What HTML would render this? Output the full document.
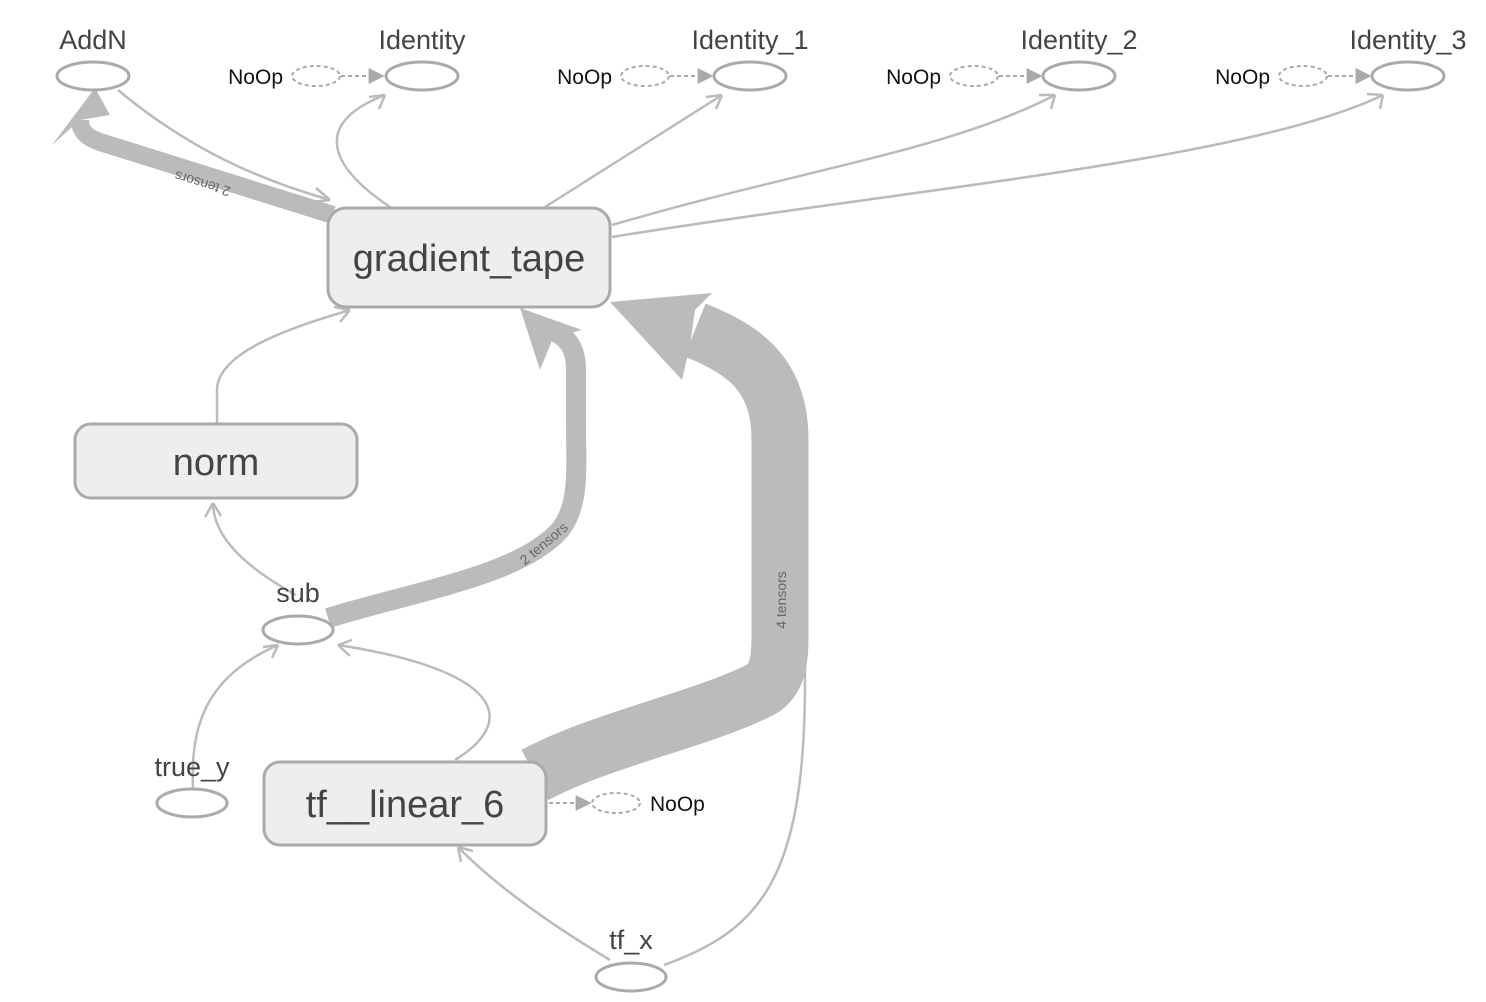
<!DOCTYPE html>
<html><head><style>
body{margin:0;background:#fff;}
svg{display:block;font-family:"Liberation Sans",sans-serif;}
</style></head><body>
<svg width="1486" height="1002" viewBox="0 0 1486 1002">
<defs>
<marker id="ad" viewBox="0 0 10 10" refX="9" refY="5" markerWidth="16" markerHeight="16" orient="auto" markerUnits="userSpaceOnUse"><path d="M0,0 L10,5 L0,10 Z" fill="#aaa"/></marker>
</defs>
<g fill="none" stroke="#bbb" stroke-width="2.5">
<path d="M118,90 C190,150 260,180 330,200" />
<path d="M330,200 l-14,-12 M330,200 l-18,2" />
<path d="M390,207 C320,160 320,120 385,95"/>
<path d="M385,95 l-16,2 M385,95 l-6,14"/>
<path d="M545,207 L722,95"/>
<path d="M722,95 l-16,2 M722,95 l-6,14"/>
<path d="M612,225 C800,170 950,150 1055,95"/>
<path d="M1055,95 l-16,0 M1055,95 l-4,14"/>
<path d="M612,237 C900,190 1250,160 1383,95"/>
<path d="M1383,95 l-16,-1 M1383,95 l-3,14"/>
<path d="M217,423 L217,390 C217,350 300,325 350,310"/>
<path d="M350,310 l-16,-3 M350,310 l-10,12"/>
<path d="M296,595 C260,575 215,545 213,505"/>
<path d="M213,503 l-8,14 M213,503 l8,13"/>
<path d="M193,788 C190,720 210,675 278,645"/>
<path d="M278,645 l-15,2 M278,645 l-6,13"/>
<path d="M455,760 C520,720 500,670 338,645"/>
<path d="M338,645 l12,11 M338,645 l14,-5"/>
<path d="M610,960 C560,930 500,890 458,847"/>
<path d="M458,847 l3,15 M458,847 l15,4"/>
<path d="M664,965 C760,930 805,880 805,680 L805,640"/>
</g>
<g fill="none" stroke="#bbb" stroke-linecap="butt">
<path d="M333,215 L100,142 C85,137 80,130 80,120" stroke-width="18"/>
<path d="M328,618 C420,590 520,575 560,530 C580,505 576,470 576,420 L576,370 C576,345 565,335 550,330" stroke-width="20"/>
<path d="M535,775 C600,740 700,720 760,690 C782,678 780,650 780,620 L780,440 C780,375 745,350 695,330" stroke-width="57" stroke-linejoin="round"/>
</g>
<polygon points="95,88 52,145 80,120 110,115" fill="#bbb"/>
<polygon points="520,308 582,330 553,338 540,370" fill="#bbb"/>
<polygon points="610,302 712,293 695,310 690,345 682,380" fill="#bbb"/>
<text x="203" y="185" font-size="14" fill="#666" text-anchor="middle" transform="rotate(197 203 182)">2 tensors</text>
<text x="545" y="548" font-size="14" fill="#666" text-anchor="middle" transform="rotate(-40 545 545)">2 tensors</text>
<text x="786" y="600" font-size="14" fill="#666" text-anchor="middle" transform="rotate(-90 786 600)">4 tensors</text>
<g fill="none" stroke="#aaa" stroke-width="2" stroke-dasharray="4,3">
<ellipse cx="316" cy="76" rx="24" ry="10"/>
<path d="M341,76 L383,76" marker-end="url(#ad)"/>
<ellipse cx="645" cy="76" rx="24" ry="10"/>
<path d="M670,76 L712,76" marker-end="url(#ad)"/>
<ellipse cx="974" cy="76" rx="24" ry="10"/>
<path d="M999,76 L1041,76" marker-end="url(#ad)"/>
<ellipse cx="1303" cy="76" rx="24" ry="10"/>
<path d="M1328,76 L1370,76" marker-end="url(#ad)"/>
<ellipse cx="616" cy="803" rx="24" ry="10"/>
<path d="M549,803 L590,803" marker-end="url(#ad)"/>
</g>
<g font-size="21" fill="#111">
<text x="283" y="84" text-anchor="end">NoOp</text>
<text x="612" y="84" text-anchor="end">NoOp</text>
<text x="941" y="84" text-anchor="end">NoOp</text>
<text x="1270" y="84" text-anchor="end">NoOp</text>
<text x="650" y="811">NoOp</text>
</g>
<g fill="#fff" stroke="#aaa" stroke-width="3">
<ellipse cx="93" cy="76" rx="36" ry="14"/>
<ellipse cx="422" cy="76" rx="36" ry="14"/>
<ellipse cx="750" cy="76" rx="36" ry="14"/>
<ellipse cx="1079" cy="76" rx="36" ry="14"/>
<ellipse cx="1408" cy="76" rx="36" ry="14"/>
<ellipse cx="298" cy="630" rx="35" ry="14"/>
<ellipse cx="192" cy="803" rx="35" ry="14"/>
<ellipse cx="631" cy="977" rx="35" ry="14"/>
</g>
<g font-size="27" fill="#444" text-anchor="middle">
<text x="93" y="49">AddN</text>
<text x="422" y="49">Identity</text>
<text x="750" y="49">Identity_1</text>
<text x="1079" y="49">Identity_2</text>
<text x="1408" y="49">Identity_3</text>
<text x="298" y="602">sub</text>
<text x="192" y="776">true_y</text>
<text x="631" y="949">tf_x</text>
</g>
<g fill="#eee" stroke="#aaa" stroke-width="3">
<rect x="328" y="208" width="282" height="99" rx="18"/>
<rect x="75" y="424" width="282" height="74" rx="16"/>
<rect x="264" y="762" width="282" height="83" rx="16"/>
</g>
<g font-size="38" fill="#444" text-anchor="middle">
<text x="469" y="271">gradient_tape</text>
<text x="216" y="475">norm</text>
<text x="405" y="817">tf__linear_6</text>
</g>
</svg>
</body></html>
